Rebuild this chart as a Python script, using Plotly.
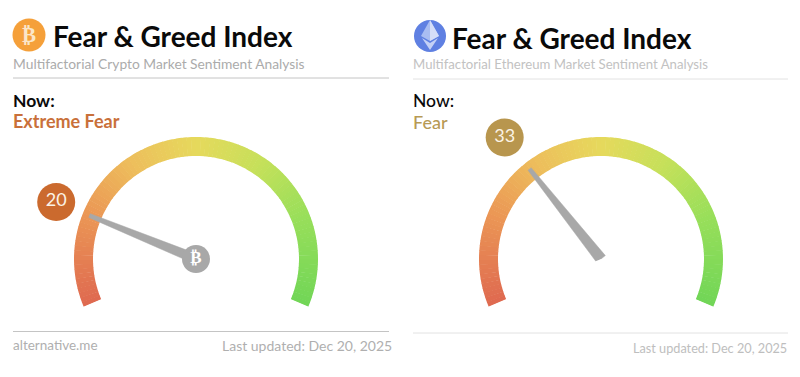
import plotly.graph_objects as go

W, H = 800, 377

# Data
gauge_titles = ["Fear & Greed Index", "Fear & Greed Index"]
gauge_subtitles = ["Multifactorial Crypto Market Sentiment Analysis",
                   "Multifactorial Ethereum Market Sentiment Analysis"]
gauge_values = [20, 33]
gauge_labels = ["Extreme Fear", "Fear"]
gauge_colors = ["#C9703A", "#B79A55"]
badge_colors = ["#CB6A2E", "#B8964E"]
footer_left = ["alternative.me", ""]
footer_right = ["Last updated: Dec 20, 2025", "Last updated: Dec 20, 2025"]
scale_steps = list(range(100))
color_stops = [[0.0, "#DF6A50"], [0.2, "#EB9755"], [0.35, "#EDBE5C"], [0.5, "#E6D95C"],
               [0.65, "#C6E05A"], [0.8, "#9ADF5A"], [1.0, "#72D657"]]

START, SPAN = 203.0, 226.0
R_MAX = 160
DOWN = 62.5


def angle(v):
    return START - SPAN * v / 100


def px(x):
    return x / W


def py(y):
    return 1 - y / H


def text(x, y, s, size, color, weight=400, anchor="left", family="Lato"):
    return dict(x=px(x), y=py(y), xref="paper", yref="paper", text=s, showarrow=False,
                xanchor=anchor, yanchor="middle", xshift=0, borderpad=0,
                font=dict(family=family, size=size, color=color, weight=weight))


fig = go.Figure()
annotations, shapes = [], []

panels = [
    dict(sub="polar", cx=196, cy=259, lx=13, tx=12, rule_r=389, rule1=78, rule2=331.5,
         head=(52, 36), subt=64, now=100, lab=121, foot=345, fr=393, needle_w=5.0,
         title=28, subs=13.8, foots=14, badge_r=151),
    dict(sub="polar2", cx=601, cy=259, lx=413, tx=412, rule_r=788, rule1=79, rule2=333,
         head=(451, 38), subt=64, now=100, lab=122, foot=348, fr=788, needle_w=5.5,
         title=28, subs=13.2, foots=12.7, badge_r=155),
]

for i, p in enumerate(panels):
    val = gauge_values[i]
    th = angle(val)
    # arc
    fig.add_trace(go.Barpolar(
        subplot=p["sub"], r=[19] * len(scale_steps), base=[103] * len(scale_steps),
        theta=[angle(s + 0.5) for s in scale_steps], width=[SPAN / 100 + 0.25] * len(scale_steps),
        marker=dict(color=scale_steps, cmin=0, cmax=99, colorscale=color_stops, line=dict(width=0)),
        hoverinfo="skip", showlegend=False))
    # needle
    w = p["needle_w"]
    fig.add_trace(go.Scatterpolar(
        subplot=p["sub"], mode="lines", fill="toself", fillcolor="#A8A8A8",
        line=dict(color="#A8A8A8", width=0.5),
        r=[w, 115, 115, w, w], theta=[th + 90, th + 1.0, th - 1.0, th - 90, th + 90],
        hoverinfo="skip", showlegend=False))
    # hub for the first gauge
    if i == 0:
        fig.add_trace(go.Scatterpolar(
            subplot=p["sub"], mode="markers+text", r=[0], theta=[0], text=["₿"],
            textposition="middle center",
            textfont=dict(family="DejaVu Sans", size=17, color="#FFFFFF", weight=700),
            marker=dict(size=28, color="#A8A8A8"), cliponaxis=False,
            hoverinfo="skip", showlegend=False))
    # value badge
    fig.add_trace(go.Scatterpolar(
        subplot=p["sub"], mode="markers+text", r=[p["badge_r"]], theta=[th], text=[str(val)],
        textposition="middle center", textfont=dict(family="Lato", size=18, color="#FBF3E6"),
        marker=dict(size=38, color=badge_colors[i]), cliponaxis=False,
        hoverinfo="skip", showlegend=False))

    annotations += [
        text(p["head"][0], p["head"][1], gauge_titles[i], p["title"], "#0A0A0A", 700),
        text(p["tx"], p["subt"], gauge_subtitles[i], p["subs"], "#ABABAB" if i == 0 else "#C2C2C2"),
        text(p["tx"], p["now"], "Now:", 17.5, "#0A0A0A", 700 if i == 0 else 500),
        text(p["tx"], p["lab"], gauge_labels[i], 18, gauge_colors[i], 700 if i == 0 else 500),
        text(p["fr"], p["foot"], footer_right[i], p["foots"], "#AFAFAF" if i == 0 else "#BEBEBE", anchor="right"),
    ]
    if footer_left[i]:
        annotations.append(text(p["tx"], p["foot"], footer_left[i], 13.5, "#AFAFAF"))
    for yy in (p["rule1"], p["rule2"]):
        shapes.append(dict(type="line", xref="paper", yref="paper", x0=px(p["lx"]), x1=px(p["rule_r"]),
                           y0=py(yy), y1=py(yy),
                           line=dict(color="#C4C4C4" if i == 0 else "#E2E2E2", width=1)))


def circle(cx, cy, r, color):
    return dict(type="circle", xref="paper", yref="paper", x0=px(cx - r), x1=px(cx + r),
                y0=py(cy + r), y1=py(cy - r), fillcolor=color, line=dict(width=0))


def poly(points, color):
    d = "M " + " L ".join(f"{px(a):.5f},{py(b):.5f}" for a, b in points) + " Z"
    return dict(type="path", xref="paper", yref="paper", path=d, fillcolor=color, line=dict(width=0))


# Coin icons
shapes.append(circle(29, 35, 16.5, "#F5A03A"))
annotations.append(text(29, 35, "₿", 21, "#FBE6C8", 700, anchor="center", family="DejaVu Sans"))
shapes.append(circle(430, 36, 16, "#5F80E2"))
shapes.append(poly([(430, 20), (439, 36), (430, 41), (421, 36)], "#A9BDF2"))
shapes.append(poly([(430, 20), (439, 36), (430, 41)], "#D5DEF8"))
shapes.append(poly([(422, 38), (430, 43), (438, 38), (430, 50)], "#C4D1F6"))

layout_polar = dict(
    bgcolor="rgba(0,0,0,0)",
    sector=[-23, 203],
    radialaxis=dict(visible=False, range=[0, R_MAX]),
    angularaxis=dict(visible=False, thetaunit="degrees"),
)


def domain(p):
    return dict(x=[px(p["cx"] - R_MAX), px(p["cx"] + R_MAX)],
                y=[py(p["cy"] + DOWN), py(p["cy"] - R_MAX)])


fig.update_layout(
    width=W, height=H, margin=dict(l=0, r=0, t=0, b=0), autosize=False,
    paper_bgcolor="#FFFFFF", plot_bgcolor="#FFFFFF", showlegend=False,
    barmode="overlay",
    polar=dict(domain=domain(panels[0]), **layout_polar),
    polar2=dict(domain=domain(panels[1]), **layout_polar),
    annotations=annotations, shapes=shapes,
)

fig.write_html("out.html", config={"displayModeBar": False},
               post_script="document.body.style.margin='0';")
